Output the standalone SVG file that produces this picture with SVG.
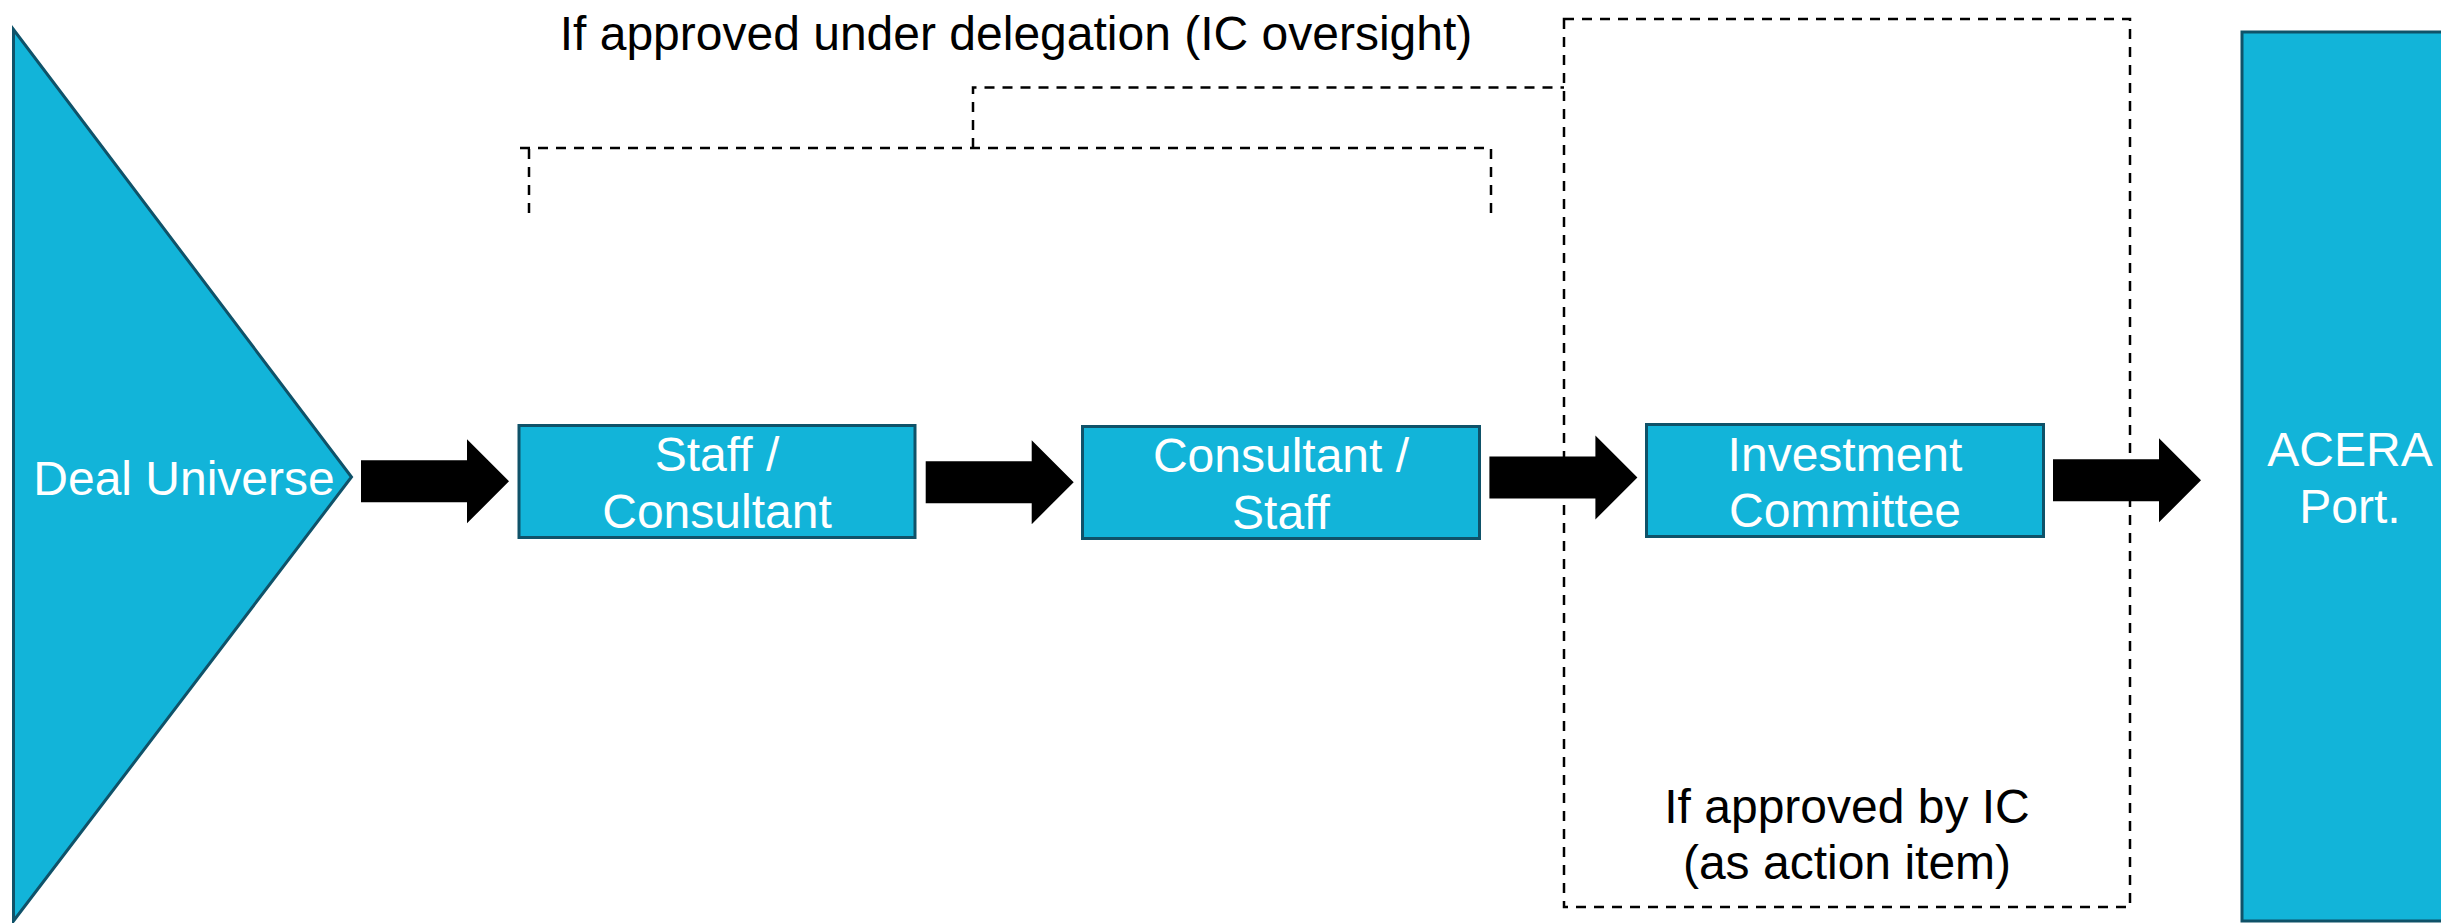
<svg xmlns="http://www.w3.org/2000/svg" xmlns:xlink="http://www.w3.org/1999/xlink" width="2441" height="923" viewBox="0 0 2441 923">
  <style>
    .node { fill: #12B4D9; stroke: #0F5269; stroke-width: 3; }
    .label { font-family: "Liberation Sans", Arial, sans-serif; font-size: 48px; fill: #FFFFFF; text-anchor: middle; }
    .note { font-family: "Liberation Sans", Arial, sans-serif; font-size: 48px; fill: #000000; text-anchor: middle; }
    .dash { fill: none; stroke: #000000; stroke-width: 2.5; stroke-dasharray: 10 8; }
    .flow { fill: #000000; }
  </style>
  <defs>
    <!-- block arrow, origin at the tail centre -->
    <path id="block-arrow" d="M0,-21 H106 V-42 L148,0 L106,42 V21 H0 Z"/>
  </defs>

  <rect width="2441" height="923" fill="#FFFFFF"/>

  <!-- delegation / IC approval brackets -->
  <g id="annotations">
    <rect class="dash" x="1564" y="19" width="566" height="888"/>
    <path class="dash" d="M973,148 V87.5 H1564"/>
    <path class="dash" d="M529,213 V148 M520,148 H1491 V213"/>
    <text class="note" x="1016" y="50">If approved under delegation (IC oversight)</text>
    <text class="note" x="1847" y="823">If approved by IC</text>
    <text class="note" x="1847" y="879">(as action item)</text>
  </g>

  <g id="deal-universe">
    <polygon class="node" points="13.5,29.5 13.5,921 351.5,477"/>
    <text class="label" x="184" y="495">Deal Universe</text>
  </g>

  <g id="staff-consultant">
    <rect class="node" x="519" y="425.5" width="396" height="112"/>
    <text class="label" x="717" y="471">Staff /</text>
    <text class="label" x="717" y="528">Consultant</text>
  </g>

  <g id="consultant-staff">
    <rect class="node" x="1082.5" y="426.5" width="397" height="112"/>
    <text class="label" x="1281" y="472">Consultant /</text>
    <text class="label" x="1281" y="528.5">Staff</text>
  </g>

  <g id="investment-committee">
    <rect class="node" x="1646.5" y="424.5" width="397" height="112"/>
    <text class="label" x="1845" y="470.5">Investment</text>
    <text class="label" x="1845" y="527">Committee</text>
  </g>

  <g id="acera-portfolio">
    <rect class="node" x="2242" y="32" width="240" height="889"/>
    <text class="label" x="2350" y="466">ACERA</text>
    <text class="label" x="2350" y="523">Port.</text>
  </g>

  <g id="connectors">
    <use class="flow" xlink:href="#block-arrow" href="#block-arrow" transform="translate(361,481.3)"/>
    <use class="flow" xlink:href="#block-arrow" href="#block-arrow" transform="translate(925.7,482.2)"/>
    <use class="flow" xlink:href="#block-arrow" href="#block-arrow" transform="translate(1489.4,477.5)"/>
    <use class="flow" xlink:href="#block-arrow" href="#block-arrow" transform="translate(2053,480.3)"/>
  </g>
</svg>
